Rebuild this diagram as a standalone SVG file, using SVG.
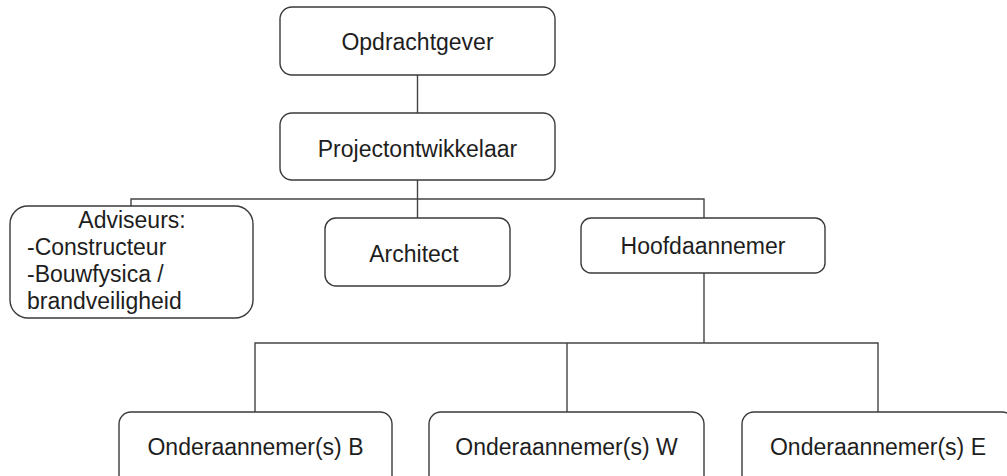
<svg xmlns="http://www.w3.org/2000/svg" width="1007" height="476" viewBox="0 0 1007 476">
<style>
.box{fill:#fff;stroke:#3a3a3a;stroke-width:1.4}
.t{font-family:"Liberation Sans",Arial,sans-serif;font-size:23px;fill:#1e1e1e}
.m{text-anchor:middle}
.c{fill:none;stroke:#444;stroke-width:1.4}
</style>
<rect width="1007" height="476" fill="#fff"/>
<g id="connectors">
<path class="c" d="M417.5 75 V113"/>
<path class="c" d="M417.5 180 V218"/>
<path class="c" d="M131 206 V199 H704 V218"/>
<path class="c" d="M704 273 V343"/>
<path class="c" d="M255 412 V343 H878 V412"/>
<path class="c" d="M567 343 V412"/>
</g>
<g id="opdrachtgever">
<rect class="box" x="280" y="7" width="275" height="68" rx="12"/>
<text class="t m" x="417.5" y="50">Opdrachtgever</text>
</g>
<g id="projectontwikkelaar">
<rect class="box" x="280" y="113" width="275" height="67" rx="12"/>
<text class="t m" x="417.5" y="157">Projectontwikkelaar</text>
</g>
<g id="adviseurs">
<rect class="box" x="10" y="206" width="243" height="112" rx="18"/>
<text class="t m" x="132" y="228">Adviseurs:</text>
<text class="t" x="27" y="255">-Constructeur</text>
<text class="t" x="27" y="282">-Bouwfysica /</text>
<text class="t" x="27" y="309">brandveiligheid</text>
</g>
<g id="architect">
<rect class="box" x="325" y="218" width="185" height="68" rx="11"/>
<text class="t m" x="414" y="262">Architect</text>
</g>
<g id="hoofdaannemer">
<rect class="box" x="581" y="218" width="244" height="55" rx="10"/>
<text class="t m" x="703" y="254">Hoofdaannemer</text>
</g>
<g id="onderaannemer-b">
<rect class="box" x="119" y="412" width="273" height="90" rx="12"/>
<text class="t m" x="255.5" y="455">Onderaannemer(s) B</text>
</g>
<g id="onderaannemer-w">
<rect class="box" x="429" y="412" width="275" height="90" rx="12"/>
<text class="t m" x="566.5" y="455">Onderaannemer(s) W</text>
</g>
<g id="onderaannemer-e">
<rect class="box" x="742" y="412" width="272" height="90" rx="12"/>
<text class="t m" x="878" y="455">Onderaannemer(s) E</text>
</g>
</svg>
